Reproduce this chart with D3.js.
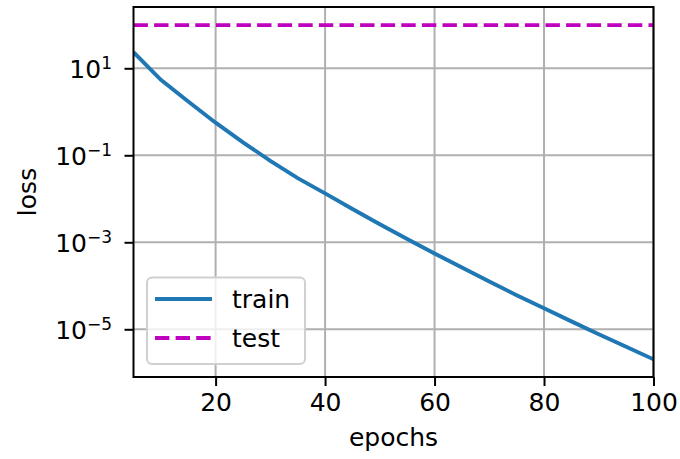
<!DOCTYPE html>
<html>
<head>
<meta charset="utf-8">
<script src="https://cdn.jsdelivr.net/npm/d3@7"></script>
<style>
  html, body { margin: 0; padding: 0; background: #fff; }
  svg { display: block; }
  text { font-family: "DejaVu Sans", sans-serif; fill: #000; }
</style>
</head>
<body>
<svg id="chart" width="680" height="459"></svg>
<script>
// ---- data ----
const epochs = [5, 10, 15, 20, 25, 30, 35, 40, 45, 50, 55, 60, 65, 70, 75, 80, 85, 90, 95, 100];
const trainLoss = [23.4, 5.43, 1.72, 0.561, 0.199, 0.0748, 0.0298, 0.0133, 5.81e-3, 2.59e-3,
                   1.19e-3, 5.55e-4, 2.62e-4, 1.26e-4, 6.08e-5, 3.04e-5, 1.52e-5, 7.73e-6, 3.96e-6, 2.04e-6];
const testLoss = [98.5, 98.5, 98.5, 98.5, 98.5, 98.5, 98.5, 98.5, 98.5, 98.5,
                  98.5, 98.5, 98.5, 98.5, 98.5, 98.5, 98.5, 98.5, 98.5, 98.5];
const xTicks = [20, 40, 60, 80, 100];
const yTickExps = [1, -1, -3, -5];
const seriesNames = ["train", "test"];
const xLabel = "epochs";
const yLabel = "loss";

// ---- layout ----
const L = 133.5, R = 653.5, T = 7, B = 377;
const svg = d3.select("#chart");
const x = d3.scaleLinear().domain([5, 100]).range([L, R]);
const y = d3.scaleLog().domain([Math.pow(10, -6.097), Math.pow(10, 2.409)]).range([B, T]);

const gridColor = "#b0b0b0";
// grid
svg.append("g").selectAll("line").data(xTicks).join("line")
  .attr("x1", d => x(d)).attr("x2", d => x(d)).attr("y1", T).attr("y2", B)
  .attr("stroke", gridColor).attr("stroke-width", 2);
svg.append("g").selectAll("line").data(yTickExps).join("line")
  .attr("y1", d => y(Math.pow(10, d))).attr("y2", d => y(Math.pow(10, d)))
  .attr("x1", L).attr("x2", R)
  .attr("stroke", gridColor).attr("stroke-width", 2);

// lines
const line = d3.line().x((d, i) => x(epochs[i])).y(d => y(d));
const clip = svg.append("clipPath").attr("id", "clip").append("rect")
  .attr("x", L).attr("y", T).attr("width", R - L).attr("height", B - T);
svg.append("path").datum(trainLoss).attr("d", line).attr("fill", "none")
  .attr("stroke", "#1f77b4").attr("stroke-width", 3.9).attr("clip-path", "url(#clip)");
svg.append("path").datum(testLoss).attr("d", line).attr("fill", "none")
  .attr("stroke", "#bf00bf").attr("stroke-width", 3.9)
  .attr("stroke-dasharray", "14.4,6.2").attr("clip-path", "url(#clip)");

// axes
const xAxis = d3.axisBottom(x).tickValues(xTicks).tickSize(9).tickPadding(7)
  .tickFormat(d3.format("d"));
const gx = svg.append("g").attr("transform", `translate(0,${B})`).call(xAxis);
gx.select(".domain").remove();
gx.selectAll(".tick line").attr("stroke", "#000").attr("stroke-width", 2);
gx.selectAll(".tick text").style("font-size", "25px").attr("font-family", "DejaVu Sans");

const yAxis = d3.axisLeft(y).tickValues(yTickExps.map(e => Math.pow(10, e))).tickSize(9).tickFormat("");
const gy = svg.append("g").attr("transform", `translate(${L},0)`).call(yAxis);
gy.select(".domain").remove();
gy.selectAll(".tick line").attr("stroke", "#000").attr("stroke-width", 2);
gy.selectAll(".tick").each(function(d) {
  const e = Math.round(Math.log10(d));
  const t = d3.select(this).append("text")
    .attr("x", -21.5).attr("y", 9).attr("text-anchor", "end")
    .style("font-size", "25px");
  t.append("tspan").text("10");
  t.append("tspan").attr("dy", -9).style("font-size", "17px")
    .text(e < 0 ? "\u2212" + Math.abs(e) : String(e));
});

// spines
svg.append("rect").attr("x", L).attr("y", T).attr("width", R - L).attr("height", B - T)
  .attr("fill", "none").attr("stroke", "#000").attr("stroke-width", 2);

// labels
svg.append("text").attr("x", (L + R) / 2).attr("y", 446).attr("text-anchor", "middle")
  .style("font-size", "25px").text(xLabel);
svg.append("text").attr("transform", `translate(35.5,${(T + B) / 2}) rotate(-90)`)
  .attr("text-anchor", "middle").style("font-size", "25px").text(yLabel);

// legend
const lg = svg.append("g");
lg.append("rect").attr("x", 147).attr("y", 277.5).attr("width", 158).attr("height", 86.5)
  .attr("rx", 5).attr("fill", "#fff").attr("fill-opacity", 0.8)
  .attr("stroke", "#d0d0d0").attr("stroke-width", 2);
const legendItems = [
  { name: seriesNames[0], color: "#1f77b4", dash: null, yy: 299 },
  { name: seriesNames[1], color: "#bf00bf", dash: "14.4,6.2", yy: 338 }
];
legendItems.forEach(it => {
  lg.append("line").attr("x1", 155).attr("x2", 212).attr("y1", it.yy).attr("y2", it.yy)
    .attr("stroke", it.color).attr("stroke-width", 3.9)
    .attr("stroke-dasharray", it.dash);
  lg.append("text").attr("x", 232).attr("y", it.yy + 9).style("font-size", "25px").text(it.name);
});
</script>
</body>
</html>
